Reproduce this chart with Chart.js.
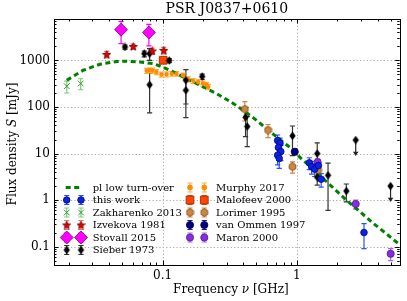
<!DOCTYPE html>
<html lang="en">
<head>
<meta charset="UTF-8" />
<title>PSR J0837+0610</title>
<script src="https://cdn.jsdelivr.net/npm/chart.js"></script>
<style>
  html, body { margin: 0; padding: 0; background: #fff; }
</style>
</head>
<body>
<canvas id="spectrum" width="407" height="301"></canvas>
<script>
// ---- data (frequency in GHz, flux density in mJy) ----
const modelFreq = [0.0193, 0.0256, 0.0341, 0.0455, 0.054, 0.068, 0.085, 0.100, 0.120, 0.169, 0.252, 0.327, 0.377, 0.480, 0.546, 0.667, 0.862, 1.08, 1.40, 1.66, 2.34, 3.70, 5.68];
const modelFlux = [376, 617, 828, 955, 960, 927, 857, 724, 566, 346, 195, 125, 95, 57, 42, 26, 14.5, 7.8, 4.0, 2.5, 1.0, 0.32, 0.118];

const thisWorkFreq = [0.72, 0.75, 0.73, 0.76, 0.72, 0.74, 1.24, 1.29, 1.36, 1.45, 1.52, 3.17];
const thisWorkFlux = [19, 16.5, 13.5, 11, 9.2, 7.8, 6.3, 5.2, 4.6, 5.5, 2.8, 0.2];
const thisWorkErr  = [6, 5, 4.5, 4, 3.5, 3, 1.8, 1.6, 1.4, 1.7, 0.9, 0.11];

const zakharenkoFreq = [0.0193, 0.0245];
const zakharenkoFlux = [280, 320];
const zakharenkoErr  = [80, 85];

const izvekovaFreq = [0.0383, 0.0604, 0.0837, 0.102];
const izvekovaFlux = [1350, 2000, 1600, 1650];
const izvekovaErr  = [220, 250, 250, 260];

const stovallFreq = [0.049, 0.079];
const stovallFlux = [4600, 4000];
const stovallErr  = [2300, 1950];

const sieberFreq = [0.0524, 0.073, 0.080, 0.080, 0.112, 0.149, 0.149, 0.197, 0.415, 0.427, 0.929, 1.42, 1.42, 1.71, 2.34];
const sieberFlux = [1950, 1400, 1400, 300, 1000, 376, 229, 450, 60, 38, 24, 10, 3.1, 3.4, 1.56];
const sieberErr  = [200, 200, 400, 225, 100, 260, 170, 60, 37, 24, 15, 7, 1, 2.8, 0.65];
// upper limits (arrow down)
const sieberLimFreq = [2.75, 5.0];
const sieberLimFlux = [19.5, 2.0];

const murphyFreq = [0.076, 0.080, 0.084, 0.090, 0.098, 0.107, 0.117, 0.127, 0.142, 0.155, 0.169, 0.184, 0.200, 0.212, 0.219];
const murphyFlux = [600, 620, 610, 566, 500, 506, 520, 520, 480, 395, 365, 345, 320, 300, 270];
const murphyErr  = [75, 75, 75, 70, 60, 60, 60, 60, 55, 50, 45, 42, 40, 38, 35];

const malofeevFreq = [0.101];
const malofeevFlux = [1010];
const malofeevErr  = [150];

const lorimerFreq = [0.41, 0.611, 0.929, 1.44];
const lorimerFlux = [90, 32, 5.2, 4.4];
const lorimerErr  = [40, 10, 1.4, 1.0];

const vanOmmenFreq = [0.966];
const vanOmmenFlux = [10.9];
const vanOmmenErr  = [1.5];

const maronFreq = [1.43, 2.75, 5.01];
const maronFlux = [6.5, 0.82, 0.07];
const maronErr  = [1.2, 0.18, 0.02];

const xTickValues = [0.1, 1];
const xTickLabels = ['0.1', '1'];
const yTickValues = [0.1, 1, 10, 100, 1000];
const yTickLabels = ['0.1', '1', '10', '100', '1000'];

// ---- marker images ----
function markerCanvas(size, draw) {
    const c = document.createElement('canvas');
    c.width = size; c.height = size;
    draw(c.getContext('2d'), size / 2);
    return c;
}
const starMarker = markerCanvas(9, (g, r) => {
    g.beginPath();
    for (let i = 0; i < 10; i++) {
        const rr = i % 2 ? r * 0.42 : r - 0.3;
        const a = -Math.PI / 2 + i * Math.PI / 5;
        g.lineTo(r + rr * Math.cos(a), r + 0.4 + rr * Math.sin(a));
    }
    g.closePath();
    g.fillStyle = '#e00000'; g.fill();
    g.strokeStyle = '#700000'; g.lineWidth = 0.8; g.stroke();
});
const thinDiamond = markerCanvas(9, (g, r) => {
    g.beginPath();
    g.moveTo(r, 0.3); g.lineTo(r + 3.2, r); g.lineTo(r, 2 * r - 0.3); g.lineTo(r - 3.2, r);
    g.closePath();
    g.fillStyle = '#000'; g.fill();
});
const hexagon = markerCanvas(9, (g, r) => {
    g.beginPath();
    for (let i = 0; i < 6; i++) {
        const a = -Math.PI / 2 + i * Math.PI / 3;
        g.lineTo(r + (r - 0.6) * Math.cos(a), r + (r - 0.6) * Math.sin(a));
    }
    g.closePath();
    g.fillStyle = '#cd853f'; g.fill();
    g.strokeStyle = '#7a4a1a'; g.lineWidth = 0.8; g.stroke();
});

const pts = (fs, ss) => fs.map((f, i) => ({ x: f, y: ss[i] }));

const datasets = [
    { label: 'pl low turn-over', data: pts(modelFreq, modelFlux), showLine: true, pointRadius: 0,
      borderColor: '#008000', borderWidth: 3, borderDash: [5, 3.5], order: 20, handle: 'line' },
    { label: 'this work', data: pts(thisWorkFreq, thisWorkFlux), errs: thisWorkErr, errColor: '#2b50ff',
      pointStyle: 'circle', pointRadius: 3.3, backgroundColor: '#0a24e6', borderColor: '#000080', borderWidth: 0.8, order: 2 },
    { label: 'Zakharenko 2013', data: pts(zakharenkoFreq, zakharenkoFlux), errs: zakharenkoErr, errColor: '#7ccc7c',
      pointStyle: 'crossRot', pointRadius: 4, borderColor: '#2e9a2e', borderWidth: 1, order: 3 },
    { label: 'Izvekova 1981', data: pts(izvekovaFreq, izvekovaFlux), errs: izvekovaErr, errColor: '#ff6b6b',
      pointStyle: starMarker, pointRadius: 4, order: 4 },
    { label: 'Stovall 2015', data: pts(stovallFreq, stovallFlux), errs: stovallErr, errColor: '#ff00ff',
      pointStyle: 'rectRot', pointRadius: 6.5, backgroundColor: '#ff00ff', borderColor: '#8b008b', borderWidth: 0.8, order: 5 },
    { label: 'Sieber 1973', data: pts(sieberFreq, sieberFlux), errs: sieberErr, errColor: '#333333',
      pointStyle: thinDiamond, pointRadius: 4, order: 6 },
    { label: 'Sieber limits', data: pts(sieberLimFreq, sieberLimFlux), uplims: true, errColor: '#222222',
      pointStyle: thinDiamond, pointRadius: 4, order: 6, noLegend: true },
    { label: 'Murphy 2017', data: pts(murphyFreq, murphyFlux), errs: murphyErr, errColor: '#ffae42',
      pointStyle: 'circle', pointRadius: 2.2, backgroundColor: '#ff8c00', borderColor: '#ff8c00', borderWidth: 0, order: 7 },
    { label: 'Malofeev 2000', data: pts(malofeevFreq, malofeevFlux), errs: malofeevErr, errColor: '#ff4500',
      pointStyle: 'rect', pointRadius: 5.5, backgroundColor: '#ff4500', borderColor: '#8b2500', borderWidth: 0.8, order: 8 },
    { label: 'Lorimer 1995', data: pts(lorimerFreq, lorimerFlux), errs: lorimerErr, errColor: '#cd853f',
      pointStyle: hexagon, pointRadius: 4, order: 9 },
    { label: 'van Ommen 1997', data: pts(vanOmmenFreq, vanOmmenFlux), errs: vanOmmenErr, errColor: '#1a1aa0',
      pointStyle: 'circle', pointRadius: 3.6, backgroundColor: '#000080', borderColor: '#00003a', borderWidth: 0.8, order: 10 },
    { label: 'Maron 2000', data: pts(maronFreq, maronFlux), errs: maronErr, errColor: '#a064f0',
      pointStyle: 'circle', pointRadius: 3.6, backgroundColor: '#8a2be2', borderColor: '#4b1a80', borderWidth: 0.8, order: 11 }
];

const SERIF = 'DejaVu Serif';

// error bars under the markers, drawn through the scales
function drawErrBar(ctx, x, yTop, yBot, capW) {
    ctx.beginPath();
    ctx.moveTo(x, yTop); ctx.lineTo(x, yBot);
    ctx.moveTo(x - capW, yTop); ctx.lineTo(x + capW, yTop);
    ctx.moveTo(x - capW, yBot); ctx.lineTo(x + capW, yBot);
    ctx.stroke();
}

const decor = {
    id: 'decor',
    beforeDatasetsDraw(chart) {
        const { ctx, chartArea: a, scales: { x, y } } = chart;
        ctx.save();
        // dotted grid at decades
        ctx.strokeStyle = '#a8a8a8'; ctx.lineWidth = 1; ctx.setLineDash([1.2, 2.2]);
        xTickValues.forEach(v => { const px = Math.round(x.getPixelForValue(v)) + 0.5;
            ctx.beginPath(); ctx.moveTo(px, a.top); ctx.lineTo(px, a.bottom); ctx.stroke(); });
        yTickValues.forEach(v => { const py = Math.round(y.getPixelForValue(v)) + 0.5;
            ctx.beginPath(); ctx.moveTo(a.left, py); ctx.lineTo(a.right, py); ctx.stroke(); });
        ctx.setLineDash([]);
        // error bars
        ctx.beginPath(); ctx.rect(a.left, a.top, a.right - a.left, a.bottom - a.top); ctx.clip();
        chart.data.datasets.forEach((ds, i) => {
            const meta = chart.getDatasetMeta(i);
            ctx.strokeStyle = ds.errColor; ctx.lineWidth = 1.2;
            if (ds.errs) {
                meta.data.forEach((p, j) => {
                    const v = ds.data[j].y, e = ds.errs[j];
                    const lo = v - e > 0 ? y.getPixelForValue(v - e) : a.bottom + 5;
                    drawErrBar(ctx, p.x, y.getPixelForValue(v + e), lo, 2.6);
                });
            }
            if (ds.uplims) {
                meta.data.forEach((p, j) => {
                    const yEnd = y.getPixelForValue(ds.data[j].y * 0.47);
                    ctx.beginPath(); ctx.moveTo(p.x, p.y); ctx.lineTo(p.x, yEnd); ctx.stroke();
                    ctx.fillStyle = ds.errColor;
                    ctx.beginPath(); ctx.moveTo(p.x - 2.8, yEnd - 3.5); ctx.lineTo(p.x + 2.8, yEnd - 3.5); ctx.lineTo(p.x, yEnd + 0.5);
                    ctx.closePath(); ctx.fill();
                });
            }
        });
        ctx.restore();
    },
    afterDatasetsDraw(chart) {
        const { ctx, chartArea: a, scales: { x, y } } = chart;
        ctx.save();
        ctx.strokeStyle = '#000'; ctx.lineWidth = 1;
        // inward ticks on all four sides
        const minor = (lo, hi) => { const out = [];
            for (let d = Math.floor(Math.log10(lo)); d <= Math.ceil(Math.log10(hi)); d++)
                for (let m = 1; m < 10; m++) { const v = m * Math.pow(10, d); if (v >= lo && v <= hi) out.push([v, m === 1]); }
            return out; };
        minor(x.min, x.max).forEach(([v, major]) => {
            const px = Math.round(x.getPixelForValue(v)) + 0.5, L = major ? 4.5 : 2.5;
            ctx.beginPath(); ctx.moveTo(px, a.bottom); ctx.lineTo(px, a.bottom - L);
            ctx.moveTo(px, a.top); ctx.lineTo(px, a.top + L); ctx.stroke();
        });
        minor(y.min, y.max).forEach(([v, major]) => {
            const py = Math.round(y.getPixelForValue(v)) + 0.5, L = major ? 4.5 : 2.5;
            ctx.beginPath(); ctx.moveTo(a.left, py); ctx.lineTo(a.left + L, py);
            ctx.moveTo(a.right, py); ctx.lineTo(a.right - L, py); ctx.stroke();
        });
        ctx.strokeRect(Math.round(a.left) + 0.5, Math.round(a.top) + 0.5,
            Math.round(a.right - a.left), Math.round(a.bottom - a.top));

        // axis titles with italic symbols
        const pieces = (parts, cx, cy, rot) => {
            ctx.save(); ctx.translate(cx, cy); ctx.rotate(rot);
            ctx.fillStyle = '#000'; ctx.textBaseline = 'middle'; ctx.textAlign = 'left';
            let w = 0;
            parts.forEach(p => { ctx.font = p[1] + ' 12px "' + SERIF + '"'; w += ctx.measureText(p[0]).width; });
            let px = -w / 2;
            parts.forEach(p => { ctx.font = p[1] + ' 12px "' + SERIF + '"'; ctx.fillText(p[0], px, 0); px += ctx.measureText(p[0]).width; });
            ctx.restore();
        };
        pieces([['Frequency ', 'normal'], ['\u03bd', 'italic'], [' [GHz]', 'normal']], (a.left + a.right) / 2 + 4, 290, 0);
        pieces([['Flux density ', 'normal'], ['S', 'italic'], [' [mJy]', 'normal']], 13, (a.top + a.bottom) / 2 + 2, -Math.PI / 2);

        // legend: two columns, two markers per entry as errorbar handles
        const entries = chart.data.datasets.filter(d => !d.noLegend);
        const rowY = [187.5, 200, 212.5, 225, 237.5, 250];
        entries.forEach((ds, k) => {
            const col = k < 6 ? 0 : 1, row = col ? k - 6 : k;
            const x0 = col ? 190 : 66.7, cy = rowY[row];
            if (ds.handle === 'line') {
                ctx.strokeStyle = ds.borderColor; ctx.lineWidth = ds.borderWidth; ctx.setLineDash(ds.borderDash);
                ctx.beginPath(); ctx.moveTo(x0 - 1, cy); ctx.lineTo(x0 + 15.5, cy); ctx.stroke(); ctx.setLineDash([]);
            } else {
                [x0, x0 + 14.3].forEach(hx => {
                    ctx.strokeStyle = ds.errColor; ctx.lineWidth = 1.2;
                    drawErrBar(ctx, hx, cy - 4.5, cy + 4.5, 2.6);
                    ctx.fillStyle = ds.backgroundColor || 'transparent';
                    ctx.strokeStyle = ds.borderColor || '#000';
                    ctx.lineWidth = ds.borderWidth === undefined ? 1 : ds.borderWidth;
                    Chart.helpers.drawPoint(ctx, { pointStyle: ds.pointStyle, radius: ds.pointRadius, rotation: 0,
                        borderWidth: ctx.lineWidth }, hx, cy);
                });
            }
            ctx.fillStyle = '#000'; ctx.font = '10px "' + SERIF + '"';
            ctx.textAlign = 'left'; ctx.textBaseline = 'middle';
            ctx.fillText(ds.label, x0 + 26, cy + 0.5);
        });
        ctx.restore();
    }
};

const tickFont = { family: SERIF, size: 12 };

new Chart(document.getElementById('spectrum'), {
    type: 'scatter',
    data: { datasets: datasets },
    plugins: [decor],
    options: {
        responsive: false,
        animation: false,
        layout: { padding: { left: 0, right: 7, top: 0, bottom: 0 } },
        plugins: {
            legend: { display: false },
            tooltip: { enabled: false },
            title: { display: true, text: 'PSR J0837+0610', color: '#000', fullSize: false,
                     font: { family: SERIF, size: 14, weight: 'normal' }, padding: { top: 1, bottom: 1.2 } }
        },
        scales: {
            x: {
                type: 'logarithmic', min: 0.0155, max: 5.85,
                grid: { display: false, drawTicks: false }, border: { display: false },
                ticks: { color: '#000', font: tickFont, padding: 4, autoSkip: false, maxRotation: 0,
                         callback: v => xTickLabels[xTickValues.indexOf(v)] },
                afterBuildTicks: s => { s.ticks = xTickValues.map(v => ({ value: v })); },
                afterFit: s => { s.height = 36; }
            },
            y: {
                type: 'logarithmic', min: 0.0401, max: 7790,
                grid: { display: false, drawTicks: false }, border: { display: false },
                ticks: { color: '#000', font: tickFont, padding: 4, autoSkip: false,
                         callback: v => yTickLabels[yTickValues.indexOf(v)] },
                afterBuildTicks: s => { s.ticks = yTickValues.map(v => ({ value: v })); },
                afterFit: s => { s.width = 54; }
            }
        }
    }
});
</script>
</body>
</html>
